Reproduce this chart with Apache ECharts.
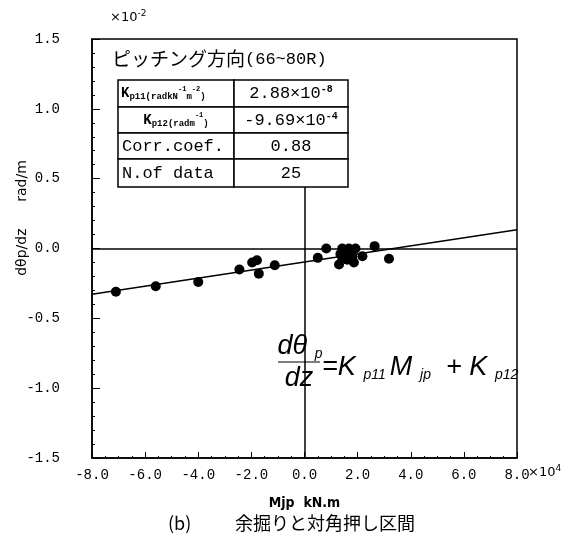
<!DOCTYPE html>
<html><head><meta charset="utf-8">
<script src="https://cdn.jsdelivr.net/npm/echarts@6/dist/echarts.min.js"></script>
<style>html,body{margin:0;padding:0;background:#fff}#c{width:586px;height:538px}</style>
</head><body><div id="c"></div>
<script>
// Data (x in 10^4 kN.m, y in 10^-2 rad/m)
const mjp = [-7.1,-5.6,-4.0,-2.45,-1.97,-1.79,-1.72,-1.12,0.50,0.82,1.30,1.35,1.42,1.42,1.48,1.55,1.61,1.67,1.74,1.80,1.86,1.92,2.18,2.64,3.18];
const dthetaDz = [-0.31,-0.27,-0.24,-0.15,-0.10,-0.084,-0.18,-0.12,-0.067,0.0,-0.115,-0.04,0.0,-0.067,-0.03,-0.05,-0.08,0.0,-0.03,-0.06,-0.10,0.0,-0.055,0.017,-0.074];
const Kp11 = 2.88e-8;   // rad/(kN m^2)
const Kp12 = -9.69e-4;  // rad/m
const tableLabels = ['Kp11', 'Kp12', 'Corr.coef.', 'N.of data'];
const tableValues = ['2.88×10-8', '-9.69×10-4', '0.88', '25'];
const xTicks = [-8, 8, 2];
const yTicks = [-1.5, 1.5, 0.5];

const slope = Kp11 * 1e4 * 1e2;     // per 10^4 kN.m, in 10^-2 rad/m
const icpt = Kp12 * 1e2;
const fitLine = [[xTicks[0], slope * xTicks[0] + icpt], [xTicks[1], slope * xTicks[1] + icpt]];
const pts = mjp.map((x, i) => [x, dthetaDz[i]]);

const chart = echarts.init(document.getElementById('c'));
const mono = 'Liberation Mono';
const L = 118, M = 234, R = 348, rows = [80, 107, 133, 159, 187];
const g = [];
// table
for (let r = 0; r < 4; r++) {
  g.push({type:'rect', shape:{x:L, y:rows[r], width:M-L, height:rows[r+1]-rows[r]}, style:{fill:'#fff', stroke:'#000', lineWidth:1.5}, z:10});
  g.push({type:'rect', shape:{x:M, y:rows[r], width:R-M, height:rows[r+1]-rows[r]}, style:{fill:'#fff', stroke:'#000', lineWidth:1.5}, z:10});
}
const cy = r => (rows[r] + rows[r+1]) / 2;
const kRich = {k:{fontFamily:mono,fontWeight:'bold',fontSize:14,lineHeight:16}, s:{fontFamily:mono,fontWeight:'bold',fontSize:9,lineHeight:16,verticalAlign:'bottom'}, u:{fontFamily:mono,fontWeight:'bold',fontSize:7,lineHeight:16,verticalAlign:'top'}};
g.push({type:'text', x:L+3, y:cy(0), z:11, style:{text:'{k|K}{s|p11(radkN}{u|-1}{s|m}{u|-2}{s|)}', verticalAlign:'middle', rich:kRich}});
g.push({type:'text', x:(L+M)/2, y:cy(1), z:11, style:{text:'{k|K}{s|p12(radm}{u|-1}{s|)}', align:'center', verticalAlign:'middle', rich:kRich}});
g.push({type:'text', x:L+4, y:cy(2), z:11, style:{text:tableLabels[2], fontFamily:mono, fontSize:17, verticalAlign:'middle', fill:'#000'}});
g.push({type:'text', x:L+4, y:cy(3), z:11, style:{text:tableLabels[3], fontFamily:mono, fontSize:17, verticalAlign:'middle', fill:'#000'}});
const valRich = {n:{fontFamily:mono,fontSize:17,lineHeight:18}, u:{fontFamily:mono,fontWeight:'bold',fontSize:10,lineHeight:18,verticalAlign:'top'}};
g.push({type:'text', x:(M+R)/2, y:cy(0), z:11, style:{text:'{n|2.88×10}{u|-8}', align:'center', verticalAlign:'middle', rich:valRich}});
g.push({type:'text', x:(M+R)/2, y:cy(1), z:11, style:{text:'{n|-9.69×10}{u|-4}', align:'center', verticalAlign:'middle', rich:valRich}});
g.push({type:'text', x:(M+R)/2, y:cy(2), z:11, style:{text:tableValues[2], fontFamily:mono, fontSize:17, align:'center', verticalAlign:'middle'}});
g.push({type:'text', x:(M+R)/2, y:cy(3), z:11, style:{text:tableValues[3], fontFamily:mono, fontSize:17, align:'center', verticalAlign:'middle'}});
// title
g.push({type:'text', x:112, y:59, z:11, style:{text:'{j|ピッチング方向}{m|(66~80R)}', verticalAlign:'middle',
  rich:{j:{fontFamily:'Noto Sans CJK JP', fontSize:19, lineHeight:22}, m:{fontFamily:mono, fontSize:17, lineHeight:22}}}});
// exponents
const expRich = {n:{fontFamily:'DejaVu Sans',fontSize:13,lineHeight:18}, u:{fontFamily:'DejaVu Sans',fontSize:9,lineHeight:18,verticalAlign:'top'}};
g.push({type:'text', x:110, y:18, style:{text:'{n|×10}{u|-2}', verticalAlign:'middle', rich:expRich}});
g.push({type:'text', x:528, y:473, style:{text:'{n|×10}{u|4}', verticalAlign:'middle', rich:expRich}});
// y axis name
g.push({type:'text', x:22, y:218, rotation:Math.PI/2, style:{text:'dθp/dz      rad/m', fontFamily:'DejaVu Sans', fontSize:14, align:'center', verticalAlign:'middle', fill:'#000'}});
// formula
const fr = {i:{fontFamily:'Liberation Sans',fontStyle:'italic',fontSize:27,lineHeight:30}, s:{fontFamily:'Liberation Sans',fontStyle:'italic',fontSize:14,lineHeight:18,verticalAlign:'bottom'}};
g.push({type:'rect', shape:{x:276, y:332, width:50, height:58}, style:{fill:'#fff'}, z:5});
g.push({type:'text', x:300, y:346, z:6, style:{text:'{i|dθ}{s|  p}', align:'center', verticalAlign:'middle', rich:fr}});
g.push({type:'line', shape:{x1:278, y1:362, x2:320, y2:362}, style:{stroke:'#000', lineWidth:1.2}, z:6});
g.push({type:'text', x:299, y:378, z:6, style:{text:'{i|dz}', align:'center', verticalAlign:'middle', rich:fr}});
g.push({type:'text', x:322, y:367, z:6, style:{text:'{i|=K}{s|  p11 }{i|M}{s|  jp}{i|  + K}{s|  p12}', verticalAlign:'middle', rich:fr}});
// caption
g.push({type:'text', x:168, y:523, style:{text:'(b)', fontFamily:'Noto Sans CJK JP', fontSize:18, verticalAlign:'middle', fill:'#000'}});
g.push({type:'text', x:235, y:523, style:{text:'余掘りと対角押し区間', fontFamily:'Noto Sans CJK JP', fontSize:18, verticalAlign:'middle', fill:'#000'}});

chart.setOption({
  animation:false,
  backgroundColor:'#fff',
  grid:{left:92, right:69, top:39, bottom:80, show:true, borderColor:'#000', borderWidth:1.5, backgroundColor:'transparent'},
  xAxis:{type:'value', min:xTicks[0], max:xTicks[1], interval:xTicks[2],
    name:'Mjp  kN.m', nameLocation:'middle', nameGap:38, nameTextStyle:{fontFamily:'DejaVu Sans Condensed', fontWeight:'bold', fontSize:14, color:'#000'},
    axisLine:{onZero:false, lineStyle:{color:'#000', width:1.5}},
    axisTick:{inside:true, length:6, lineStyle:{color:'#000'}},
    minorTick:{show:true, splitNumber:4, length:2, lineStyle:{color:'#000'}},
    splitLine:{show:false},
    axisLabel:{fontFamily:mono, fontSize:14, color:'#000', margin:10, formatter:v => v.toFixed(1)}},
  yAxis:{type:'value', min:yTicks[0], max:yTicks[1], interval:yTicks[2],
    axisLine:{onZero:false, lineStyle:{color:'#000', width:1.5}},
    axisTick:{inside:true, length:8, lineStyle:{color:'#000'}},
    minorTick:{show:true, splitNumber:5, length:3, lineStyle:{color:'#000'}},
    splitLine:{show:false},
    axisLabel:{fontFamily:mono, fontSize:14, color:'#000', margin:32, formatter:v => v.toFixed(1)}},
  graphic:g,
  series:[
    {type:'line', data:fitLine, showSymbol:false, lineStyle:{color:'#000', width:1.5}, z:3,
      markLine:{silent:true, symbol:'none', label:{show:false}, lineStyle:{color:'#000', width:1.5, type:'solid'},
        data:[[{coord:[xTicks[0],0]},{coord:[xTicks[1],0]}], [{coord:[0,0.51]},{coord:[0,yTicks[0]]}]]}},
    {type:'scatter', data:pts, symbol:'circle', symbolSize:10, itemStyle:{color:'#000', opacity:1}, z:4}
  ]
});
</script></body></html>
